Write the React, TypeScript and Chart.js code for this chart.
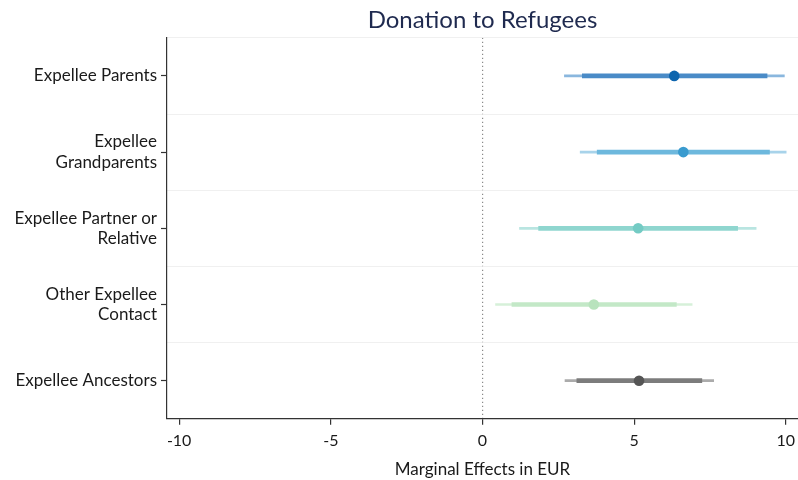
import React, { useEffect, useRef } from "react";
import { Chart, registerables } from "chart.js";

Chart.register(...registerables);

const categories: (string | string[])[] = [
  "Expellee Parents",
  ["Expellee", "Grandparents"],
  ["Expellee Partner or", "Relative"],
  ["Other Expellee", "Contact"],
  "Expellee Ancestors",
];
const estimates = [6.32, 6.62, 5.13, 3.67, 5.16];
const outerLow = [2.7, 3.22, 1.22, 0.43, 2.72];
const outerHigh = [9.95, 10.01, 9.02, 6.91, 7.62];
const innerLow = [3.29, 3.78, 1.85, 0.97, 3.11];
const innerHigh = [9.38, 9.46, 8.41, 6.39, 7.23];
const xTicks = [-10, -5, 0, 5, 10];

const pointColors = ["#0d65ae", "#3a9bcf", "#74cbc4", "#b8e3bd", "#555555"];
const innerColors = ["#4a8bc7", "#6db8dd", "#8fd6cf", "#c3e8c7", "#7c7c7c"];
const outerColors = ["#8ab7de", "#a8d3ea", "#b9e5e1", "#d6f0d9", "#ababab"];

const FONT = "Lato, 'Open Sans', sans-serif";

export default function App() {
  const ref = useRef<HTMLCanvasElement>(null);
  useEffect(() => {
    document.body.style.margin = "0";
    const ctx = ref.current!;
    const chart = new Chart(ctx, {
      type: "bar",
      data: {
        labels: categories as any,
        datasets: [
          {
            type: "scatter",
            data: estimates.map((v, i) => ({ x: v, y: i })) as any,
            backgroundColor: pointColors,
            borderColor: pointColors,
            pointRadius: 5.3,
            pointBorderWidth: 0,
            yAxisID: "y",
            xAxisID: "x",
          } as any,
          {
            type: "bar",
            data: innerLow.map((v, i) => [v, innerHigh[i]]) as any,
            backgroundColor: innerColors,
            barThickness: 4,
            grouped: false,
            yAxisID: "y",
            xAxisID: "x",
          } as any,
          {
            type: "bar",
            data: outerLow.map((v, i) => [v, outerHigh[i]]) as any,
            backgroundColor: outerColors,
            barThickness: 2,
            grouped: false,
            yAxisID: "y",
            xAxisID: "x",
          } as any,
        ],
      },
      options: {
        responsive: false,
        animation: false,
        indexAxis: "y",
        layout: { autoPadding: false, padding: { left: 0, right: 0, top: 0, bottom: 0 } },
        plugins: {
          legend: { display: false },
          tooltip: { enabled: false },
          title: {
            display: true,
            text: "Donation to Refugees",
            fullSize: false,
            color: "#1f2a4f",
            font: { family: FONT, size: 24, weight: "normal" },
            padding: { top: 6, bottom: 3 },
          },
        },
        scales: {
          x: {
            type: "linear",
            min: -10.4,
            max: 10.4,
            afterBuildTicks: (scale: any) => {
              scale.ticks = xTicks.map((v) => ({ value: v }));
            },
            afterFit: (scale: any) => {
              scale.paddingRight = 0;
              scale.paddingLeft = 0;
            },
            ticks: {
              color: "#1a1a1a",
              font: { family: FONT, size: 16 },
              padding: 6,
              callback: (v: any) => String(v),
            },
            grid: {
              color: (c: any) => (c.tick && c.tick.value === 0 ? "#8a8a8a" : "rgba(0,0,0,0)"),
              lineWidth: 1.2,
              tickColor: "#333",
              tickLength: 6,
              tickWidth: 1.2,
            },
            border: { color: "#333", width: 1.2, dash: [1.2, 2.8] },
            title: {
              display: true,
              text: "Marginal Effects in EUR",
              color: "#1a1a1a",
              font: { family: FONT, size: 17 },
              padding: { top: 3.6, bottom: 0 },
            },
          },
          y: {
            type: "category",
            offset: true,
            weight: 1,
            afterFit: (scale: any) => {
              scale.width = 167;
            },
            ticks: {
              color: "#1a1a1a",
              font: { family: FONT, size: 17, lineHeight: 1.2 },
              padding: 4,
            },
            grid: {
              offset: false,
              drawOnChartArea: false,
              tickColor: "#333",
              tickLength: 6,
              tickWidth: 1.2,
            },
            border: { color: "#333", width: 1.2 },
          },
          y2: {
            type: "category",
            position: "left",
            offset: true,
            weight: 0,
            afterFit: (scale: any) => {
              scale.width = 0;
            },
            ticks: { display: false },
            grid: {
              offset: true,
              drawTicks: false,
              color: "#f0f0f0",
              lineWidth: 1,
            },
            border: { display: false },
          },
        },
      } as any,
    });
    return () => chart.destroy();
  }, []);
  return (
    <div style={{ width: 798, height: 480 }}>
      <canvas ref={ref} width={798} height={480} />
    </div>
  );
}
